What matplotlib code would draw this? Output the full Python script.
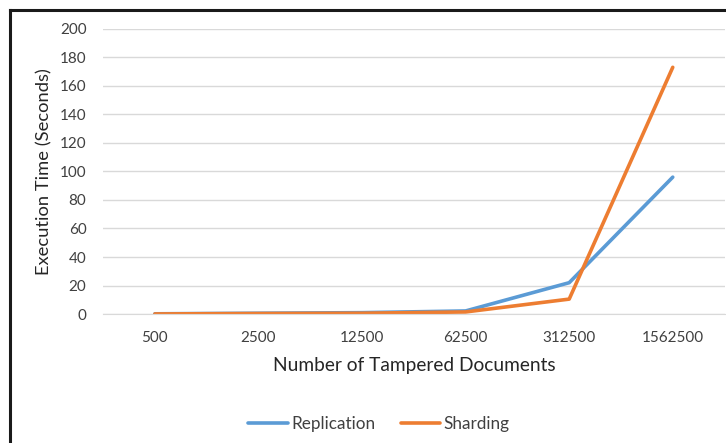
import matplotlib
matplotlib.use("Agg")
import matplotlib.pyplot as plt
from matplotlib.lines import Line2D

categories = ["500", "2500", "12500", "62500", "312500", "1562500"]
replication = [0.2, 0.6, 1.0, 2.2, 22, 96]
sharding = [0.1, 0.4, 0.6, 1.5, 10.5, 173]
yticks = list(range(0, 201, 20))

plt.rcParams['font.family'] = ['Lato', 'DejaVu Sans']

fig = plt.figure(figsize=(7.26, 4.43), dpi=100)
ax = fig.add_axes([0.142, 0.291, 0.856, 0.644])

x = list(range(len(categories)))
ax.plot(x, replication, color="#5B9BD5", lw=2.6, label="Replication", solid_capstyle="round")
ax.plot(x, sharding, color="#ED7D31", lw=2.6, label="Sharding", solid_capstyle="round")

ax.set_xlim(-0.5, len(categories) - 0.5)
ax.set_ylim(0, 200)
ax.set_yticks(yticks)
ax.set_xticks(x)
ax.set_xticklabels(categories)
ax.yaxis.grid(True, color="#D9D9D9", lw=1)
ax.set_axisbelow(True)
for s in ax.spines.values():
    s.set_visible(False)
ax.spines['bottom'].set_visible(True)
ax.spines['bottom'].set_color("#D9D9D9")
ax.tick_params(axis='both', length=0, labelsize=11, colors="#404040")
ax.tick_params(axis='y', pad=12)
ax.tick_params(axis='x', pad=12)
ax.set_ylabel("Execution Time (Seconds)", fontsize=13.2, color="#262626", labelpad=5)
ax.set_xlabel("Number of Tampered Documents", fontsize=13.8, color="#262626", labelpad=9)

leg = fig.legend(loc="center", bbox_to_anchor=(0.522, 0.043), ncol=2, frameon=False,
                 fontsize=12.3, handlelength=2.3, columnspacing=1.5, handletextpad=0.2)
for t in leg.get_texts():
    t.set_color("#404040")

fig.add_artist(Line2D([10/726, 1.0], [1 - 10/443, 1 - 10/443], color="#1a1a1a", lw=2.2, transform=fig.transFigure))
fig.add_artist(Line2D([10/726, 10/726], [0, 1 - 10/443], color="#1a1a1a", lw=2.2, transform=fig.transFigure))

fig.savefig("out.png", dpi=100)
